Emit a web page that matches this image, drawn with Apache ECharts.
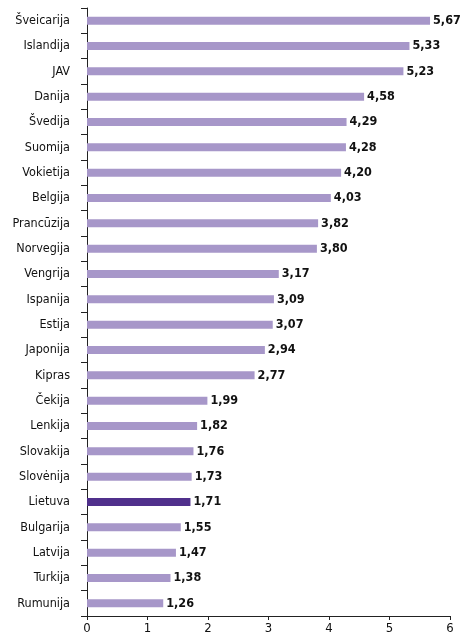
<!DOCTYPE html>
<html>
<head>
<meta charset="utf-8">
<script src="https://cdn.jsdelivr.net/npm/echarts@6/dist/echarts.min.js"></script>
<style>
  html, body { margin: 0; padding: 0; background: #fff; }
  #chart { width: 463px; height: 641px; }
</style>
</head>
<body>
<div id="chart"></div>
<script>
// šalys iš viršaus į apačią
const countries = ['Šveicarija', 'Islandija', 'JAV', 'Danija', 'Švedija', 'Suomija', 'Vokietija', 'Belgija',
  'Prancūzija', 'Norvegija', 'Vengrija', 'Ispanija', 'Estija', 'Japonija', 'Kipras', 'Čekija',
  'Lenkija', 'Slovakija', 'Slovėnija', 'Lietuva', 'Bulgarija', 'Latvija', 'Turkija', 'Rumunija']
const values = [5.67, 5.33, 5.23, 4.58, 4.29, 4.28, 4.20, 4.03, 3.82, 3.80, 3.17, 3.09, 3.07, 2.94, 2.77, 1.99,
  1.82, 1.76, 1.73, 1.71, 1.55, 1.47, 1.38, 1.26]
const xTicks = [0, 1, 2, 3, 4, 5, 6]
const highlight = 'Lietuva'

const font = "'DejaVu Sans Condensed', 'Liberation Sans Narrow', sans-serif"

const chart = echarts.init(document.getElementById('chart'))
chart.setOption({
  animation: false,
  grid: { left: 87, right: 13, top: 8, bottom: 25 },
  xAxis: {
    type: 'value',
    min: xTicks[0],
    max: xTicks[xTicks.length - 1],
    interval: 1,
    splitLine: { show: false },
    axisLine: { show: true, lineStyle: { color: '#222', width: 1 } },
    axisTick: { show: true, length: 4, lineStyle: { color: '#222' } },
    axisLabel: { color: '#111', fontSize: 13, fontFamily: font, margin: 6 }
  },
  yAxis: {
    type: 'category',
    inverse: true,
    data: countries,
    axisLine: { show: true, lineStyle: { color: '#222', width: 1 } },
    axisTick: { show: true, length: 6, lineStyle: { color: '#222' } },
    axisLabel: { color: '#111', fontSize: 12.5, fontFamily: font, margin: 17 }
  },
  series: [{
    type: 'bar',
    barWidth: 8,
    data: values.map((v, i) => ({
      value: v,
      itemStyle: { color: countries[i] === highlight ? '#50308c' : '#a797c9' }
    })),
    label: {
      show: true,
      position: 'right',
      distance: 3,
      color: '#111',
      fontSize: 12.5,
      fontWeight: 'bold',
      fontFamily: font,
      formatter: p => p.value.toFixed(2).replace('.', ',')
    }
  }]
})
</script>
</body>
</html>
